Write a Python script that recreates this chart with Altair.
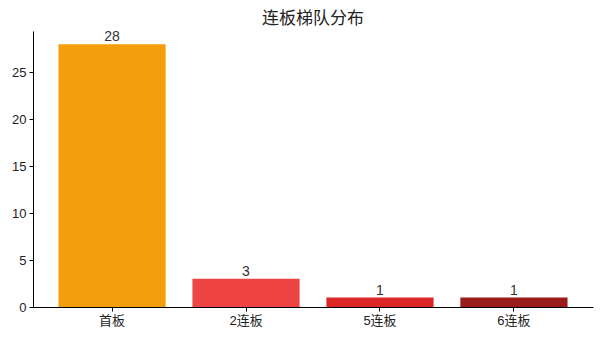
import altair as alt
import pandas as pd

categories = ["首板", "2连板", "5连板", "6连板"]
counts = [28, 3, 1, 1]
colors = ["#f59e0b", "#ef4444", "#dc2626", "#991b1b"]

df = pd.DataFrame({"cat": categories, "n": counts, "color": colors})

FONT = "Liberation Sans, Arial, Noto Sans CJK SC, sans-serif"

x = alt.X("cat:N", sort=categories, title=None,
          scale=alt.Scale(paddingInner=0.2, paddingOuter=0.19),
          axis=alt.Axis(labelAngle=0, labelFontSize=13, labelColor="#222",
                        domainColor="#000", tickColor="#000", tickSize=4,
                        labelPadding=3, labelFont=FONT))
y = alt.Y("n:Q", title=None,
          scale=alt.Scale(domain=[0, 29.4], nice=False, zero=True),
          axis=alt.Axis(values=[0, 5, 10, 15, 20, 25], grid=False,
                        labelFontSize=13, labelColor="#222", domainColor="#000",
                        tickColor="#000", tickSize=4, labelPadding=3, labelFont=FONT))

bars = alt.Chart(df).mark_bar(strokeWidth=0).encode(
    x=x, y=y, color=alt.Color("color:N", scale=None))
labels = alt.Chart(df).mark_text(baseline="bottom", dy=0, fontSize=14,
                                 color="#333333", font=FONT).encode(
    x=alt.X("cat:N", sort=categories), y="n:Q", text="n:Q")

chart = (bars + labels).properties(
    width=560, height=276,
    title=alt.TitleParams("连板梯队分布", fontSize=17, fontWeight="normal",
                          color="#222", font=FONT, offset=2),
    autosize=alt.AutoSizeParams(type="none"),
    padding={"left": 33, "top": 31, "right": 7, "bottom": 32},
).configure_view(stroke=None)

chart.save("out.html", embed_options={"renderer": "svg", "actions": False})
